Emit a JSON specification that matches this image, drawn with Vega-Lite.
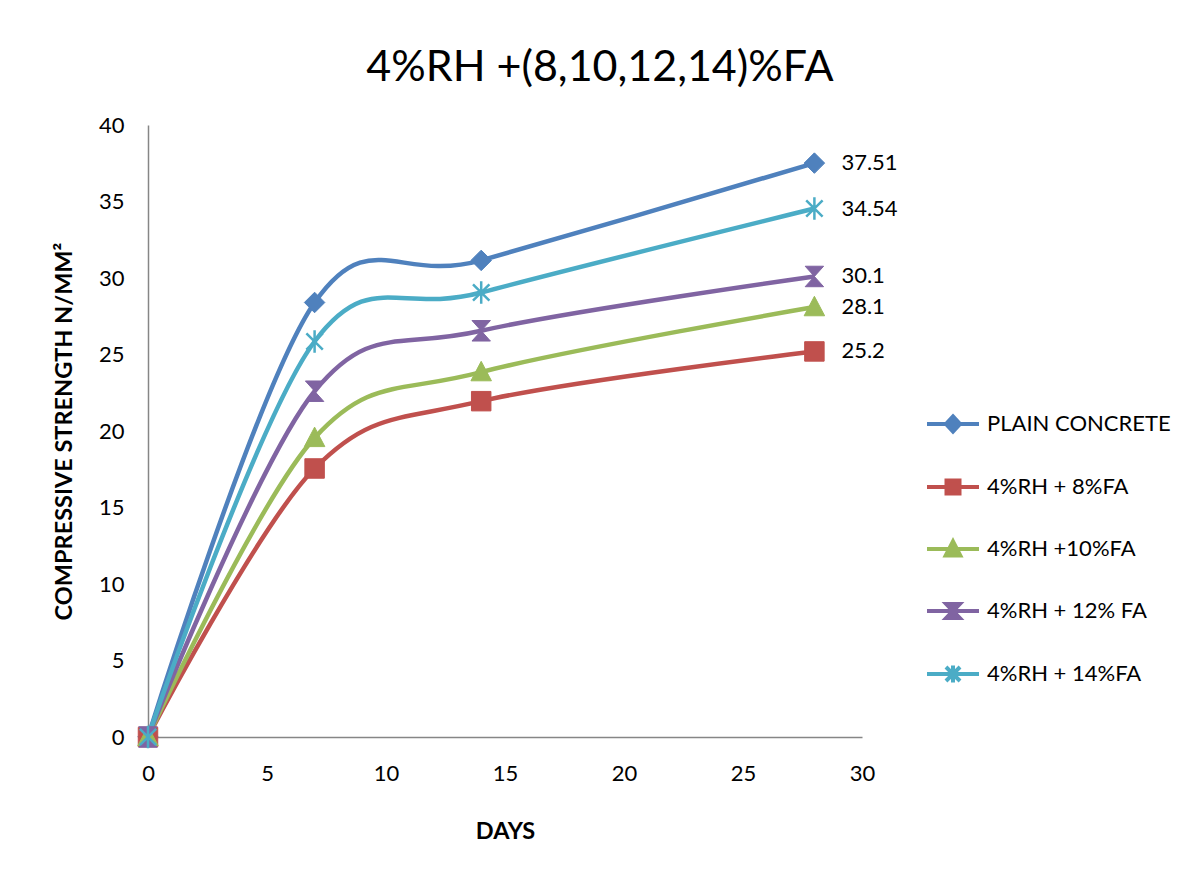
{
  "$schema": "https://vega.github.io/schema/vega-lite/v6.json",
  "width": 714,
  "height": 612,
  "autosize": {"type": "none"},
  "padding": {"left": 148, "top": 125, "right": 326, "bottom": 136},
  "background": "white",
  "title": {
    "text": "4%RH +(8,10,12,14)%FA",
    "font": "Lato",
    "fontSize": 43,
    "fontWeight": "normal",
    "color": "black",
    "anchor": "middle",
    "frame": "group",
    "dx": 95,
    "dy": 40,
    "offset": 30,
    "baseline": "alphabetic"
  },
  "config": {"view": {"stroke": null}, "font": "Lato"},
  "data": {
    "values": [
      {"series": "PLAIN CONCRETE", "days": 0, "strength": 0},
      {"series": "PLAIN CONCRETE", "days": 7, "strength": 28.4},
      {"series": "PLAIN CONCRETE", "days": 14, "strength": 31.15},
      {"series": "PLAIN CONCRETE", "days": 28, "strength": 37.51},
      {"series": "4%RH + 8%FA", "days": 0, "strength": 0},
      {"series": "4%RH + 8%FA", "days": 7, "strength": 17.55},
      {"series": "4%RH + 8%FA", "days": 14, "strength": 21.95},
      {"series": "4%RH + 8%FA", "days": 28, "strength": 25.2},
      {"series": "4%RH +10%FA", "days": 0, "strength": 0},
      {"series": "4%RH +10%FA", "days": 7, "strength": 19.55},
      {"series": "4%RH +10%FA", "days": 14, "strength": 23.85},
      {"series": "4%RH +10%FA", "days": 28, "strength": 28.1},
      {"series": "4%RH + 12% FA", "days": 0, "strength": 0},
      {"series": "4%RH + 12% FA", "days": 7, "strength": 22.6},
      {"series": "4%RH + 12% FA", "days": 14, "strength": 26.55},
      {"series": "4%RH + 12% FA", "days": 28, "strength": 30.1},
      {"series": "4%RH + 14%FA", "days": 0, "strength": 0},
      {"series": "4%RH + 14%FA", "days": 7, "strength": 25.85},
      {"series": "4%RH + 14%FA", "days": 14, "strength": 29.05},
      {"series": "4%RH + 14%FA", "days": 28, "strength": 34.54}
    ]
  },
  "encoding": {
    "x": {
      "field": "days",
      "type": "quantitative",
      "scale": {"domain": [0, 30], "nice": false},
      "axis": {
        "values": [0, 5, 10, 15, 20, 25, 30],
        "grid": false,
        "ticks": false,
        "domainColor": "#868686",
        "domainWidth": 1.5,
        "labelFont": "Lato",
        "labelFontSize": 22,
        "labelColor": "black",
        "labelPadding": 26,
        "labelFlush": false,
        "labelOverlap": false,
        "title": "DAYS",
        "titleFont": "Lato",
        "titleFontSize": 23.5,
        "titleFontWeight": "bold",
        "titleColor": "black",
        "titlePadding": 35
      }
    },
    "y": {
      "field": "strength",
      "type": "quantitative",
      "scale": {"domain": [0, 40], "nice": false},
      "axis": {
        "values": [0, 5, 10, 15, 20, 25, 30, 35, 40],
        "grid": false,
        "ticks": false,
        "domainColor": "#868686",
        "domainWidth": 1.5,
        "labelFont": "Lato",
        "labelFontSize": 22,
        "labelColor": "black",
        "labelPadding": 24,
        "labelFlush": false,
        "labelOverlap": false,
        "title": "COMPRESSIVE STRENGTH N/MM²",
        "titleFont": "Lato",
        "titleFontSize": 23.5,
        "titleFontWeight": "bold",
        "titleColor": "black",
        "titlePadding": 22
      }
    }
  },
  "layer": [
    {
      "mark": {"type": "line", "interpolate": "cardinal", "strokeWidth": 4.5},
      "encoding": {
        "color": {
          "field": "series",
          "type": "nominal",
          "scale": {
            "domain": ["PLAIN CONCRETE", "4%RH + 8%FA", "4%RH +10%FA", "4%RH + 12% FA", "4%RH + 14%FA"],
            "range": ["#4F81BD", "#C0504D", "#9BBB59", "#8064A2", "#4BACC6"]
          },
          "legend": {
            "orient": "none",
            "legendX": 777,
            "legendY": 271,
            "title": null,
            "symbolSize": 2704,
            "symbolStrokeWidth": 4,
            "labelFont": "Lato",
            "labelFontSize": 22,
            "labelColor": "black",
            "labelLimit": 400,
            "labelOffset": 6,
            "rowPadding": 19,
            "encode": {
              "symbols": {
                "update": {
                  "shape": {"signal": "datum.value === 'PLAIN CONCRETE' ? 'M-1,0L1,0M0,-0.29L0.27,0L0,0.29L-0.27,0Z' : datum.value === '4%RH + 8%FA' ? 'M-1,0L1,0M-0.25,-0.25L0.25,-0.25L0.25,0.25L-0.25,0.25Z' : datum.value === '4%RH +10%FA' ? 'M-1,0L1,0M0,-0.29L0.28,0.25L-0.28,0.25Z' : datum.value === '4%RH + 12% FA' ? 'M-1,0L1,0M-0.26,-0.27L0.26,-0.27L0,0L0.26,0.27L-0.26,0.27L0,0Z' : 'M-1,0L1,0M-0.27,-0.27L0.27,0.27M0.27,-0.27L-0.27,0.27M0,-0.33L0,0.33'"},
                  "fill": {"signal": "scale('color', datum.value)"}
                }
              }
            }
          }
        }
      }
    },
    {
      "transform": [{"filter": "datum.series !== '4%RH + 14%FA'"}],
      "mark": {"type": "point", "filled": true, "size": 420, "opacity": 1, "strokeWidth": 1},
      "encoding": {
        "fill": {
          "field": "series",
          "type": "nominal",
          "scale": {"range": ["#8064A2", "#C0504D", "#9BBB59", "#4F81BD"]},
          "legend": null
        },
        "stroke": {
          "field": "series",
          "type": "nominal",
          "scale": {"range": ["#8064A2", "#4BACC6", "#C0504D", "#9BBB59", "#4F81BD"]},
          "legend": null
        },
        "shape": {
          "field": "series",
          "type": "nominal",
          "scale": {
            "range": [
              "M-0.9,-1L0.9,-1L0,0L0.9,1L-0.9,1L0,0Z",
              "M-0.8,-0.8L0.8,0.8M0.8,-0.8L-0.8,0.8M0,-1.1L0,1.1",
              "M-0.95,-0.95L0.95,-0.95L0.95,0.95L-0.95,0.95Z",
              "M0,-1.05L1,0.85L-1,0.85Z",
              "M0,-1L1,0L0,1L-1,0Z"
            ]
          },
          "legend": null
        }
      }
    },
    {
      "transform": [{"filter": "datum.series === '4%RH + 14%FA'"}],
      "mark": {"type": "point", "filled": false, "size": 420, "opacity": 1, "strokeWidth": 2.5},
      "encoding": {
        "stroke": {"field": "series", "type": "nominal", "legend": null},
        "shape": {"field": "series", "type": "nominal", "legend": null}
      }
    },
    {
      "transform": [{"filter": "datum.days === 28"}],
      "mark": {"type": "text", "align": "left", "baseline": "middle", "dx": 27, "font": "Lato", "fontSize": 22, "color": "black"},
      "encoding": {
        "text": {"field": "strength", "type": "quantitative"}
      }
    }
  ]
}
